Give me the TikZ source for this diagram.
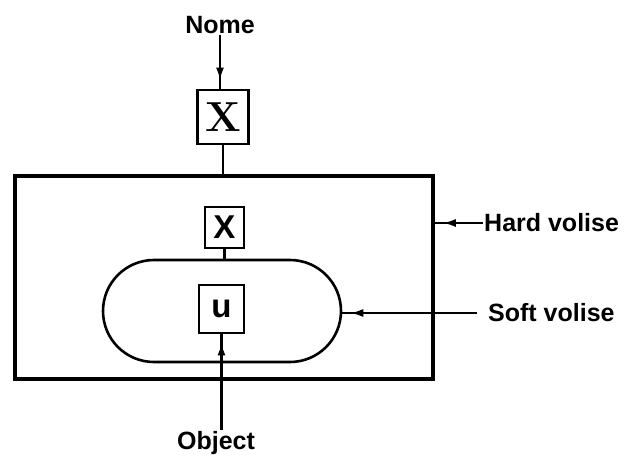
\documentclass[tikz,border=0pt]{standalone}
\usepackage{fontspec}
\setsansfont{Liberation Sans}
\usepackage{tikz}
\usetikzlibrary{arrows.meta,positioning,calc,shapes.misc,decorations.markings}
\tikzset{
  lbl/.style   ={font=\sffamily\bfseries\fontsize{25}{25}\selectfont, inner sep=1pt},
  cell/.style  ={draw, line width=2.8pt, inner sep=0pt, font=\sffamily\bfseries\fontsize{33}{33}\selectfont},
  valise/.style={draw, line width=3.6pt, rectangle, inner sep=0pt},
  softv/.style ={draw, line width=2.6pt, rounded rectangle, inner sep=0pt},
  wire/.style  ={line width=2.8pt},
  thin/.style  ={line width=2.2pt},
  tip/.style   ={postaction={decorate}, decoration={markings,
                 mark=at position -8pt with {\arrow{Latex[length=13pt,width=8pt]}}}},
}
\begin{document}
\begin{tikzpicture}[x=1pt, y=-1pt]
  \useasboundingbox (0,0) rectangle (624,464);
  % valises
  \node[valise, minimum width=418pt, minimum height=203pt] (hard) at (224,277.5) {};
  \node[softv, minimum width=238pt, minimum height=102pt] (soft) at (222,311) {};
  % boxes
  \node[cell, minimum width=51pt, minimum height=54pt] (tag) at (223,117) {\rmfamily\bfseries\fontsize{42}{42}\selectfont X};
  \node[cell, minimum width=39pt, minimum height=41pt] (xbox) at (224.5,227.5) {X};
  \node[cell, minimum width=45pt, minimum height=48pt] (ubox) at (221.5,309) {u};
  % labels
  \node[lbl] (nome) at (220,25) {Nome};
  \node[lbl] (object) at (216,443) {Object};
  \node[lbl, anchor=west] (hardlbl) at (483,223) {Hard volise};
  \node[lbl, anchor=west] (softlbl) at (487,313) {Soft volise};
  % connectors
  \draw[wire, tip] (nome.south) -- (nome.south |- tag.north);
  \draw[wire] (tag.south) -- (tag.south |- hard.north);
  \draw[wire] (xbox.south) -- (xbox.south |- soft.north);
  \draw[wire, tip] (object.north -| ubox.south) -- (ubox.south);
  \draw[thin, tip] (hardlbl.west) -- (hardlbl.west -| hard.east);
  \draw[thin, tip] ($(softlbl.west)+(-10,0)$) -- (softlbl.west -| soft.east);
\end{tikzpicture}
\end{document}
